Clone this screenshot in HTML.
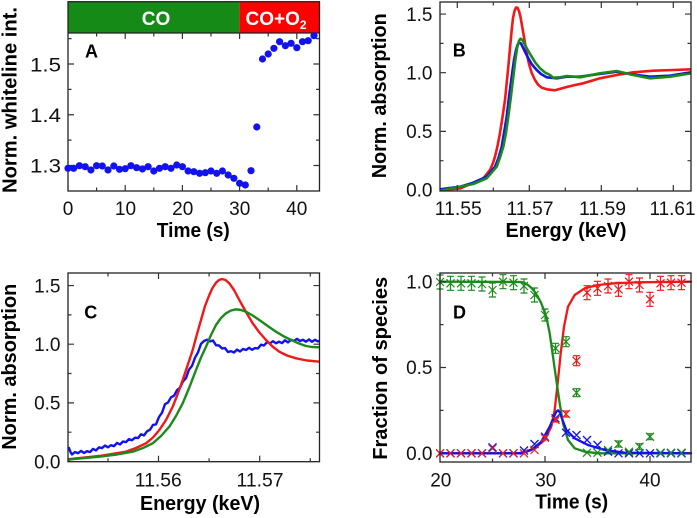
<!DOCTYPE html>
<html><head><meta charset="utf-8"><style>html,body{margin:0;padding:0;background:#fff}svg{display:block}</style></head>
<body>
<svg width="697" height="518" viewBox="0 0 697 518" xmlns="http://www.w3.org/2000/svg" font-family="'Liberation Sans', Arial, sans-serif">
<defs>
<clipPath id="cB"><rect x="440" y="2" width="251" height="189"/></clipPath>
<clipPath id="cC"><rect x="68" y="273" width="251.5" height="188.7"/></clipPath>
<clipPath id="cD"><rect x="436" y="269" width="259" height="197"/></clipPath>
</defs>

<!-- ================= PANEL A ================= -->
<rect x="68" y="1.7" width="171.6" height="31.3" fill="#168a16"/>
<rect x="239.6" y="1.7" width="79.9" height="31.3" fill="#ff0000"/>
<text x="156" y="25" font-size="19" font-weight="bold" fill="#fff" text-anchor="middle">CO</text>
<text x="276" y="25" font-size="19" font-weight="bold" fill="#fff" text-anchor="middle">CO+O<tspan font-size="12" dy="4">2</tspan></text>
<rect x="68" y="1.7" width="251.5" height="189.3" fill="none" stroke="#222" stroke-width="1.3"/>
<line x1="68" y1="33" x2="319.5" y2="33" stroke="#222" stroke-width="1.3"/>
<g stroke="#333" stroke-width="1.2">
<path d="M68 191v-6M125.2 191v-6M182.4 191v-6M239.6 191v-6M296.8 191v-6M96.6 191v-3.5M153.8 191v-3.5M211 191v-3.5M268.2 191v-3.5"/>
<path d="M125.2 33v6M182.4 33v6M239.6 33v6M296.8 33v6M96.6 33v3.5M153.8 33v3.5M211 33v3.5M268.2 33v3.5"/>
<path d="M68 165.5h6M68 114.75h6M68 64h6M68 140.1h3.5M68 89.4h3.5M68 38.6h3.5"/>
<path d="M319.5 165.5h-6M319.5 114.75h-6M319.5 64h-6M319.5 140.1h-3.5M319.5 89.4h-3.5M319.5 38.6h-3.5"/>
</g>
<g font-size="19" fill="#111" text-anchor="end">
<text x="61" y="71.5" textLength="31" lengthAdjust="spacingAndGlyphs">1.5</text>
<text x="61" y="122" textLength="31" lengthAdjust="spacingAndGlyphs">1.4</text>
<text x="61" y="172.5" textLength="31" lengthAdjust="spacingAndGlyphs">1.3</text>
</g>
<g font-size="19" fill="#111" text-anchor="middle">
<text x="68" y="215">0</text><text x="125.5" y="215">10</text><text x="182.7" y="215">20</text><text x="239.7" y="215">30</text><text x="296.7" y="215">40</text>
</g>
<text x="193.3" y="237" font-size="20" font-weight="bold" text-anchor="middle" textLength="73" lengthAdjust="spacingAndGlyphs">Time (s)</text>
<text transform="translate(16.5,100) rotate(-90)" font-size="20" font-weight="bold" text-anchor="middle" textLength="186" lengthAdjust="spacingAndGlyphs">Norm. whiteline int.</text>
<text x="85" y="57.3" font-size="18" font-weight="bold">A</text>
<g fill="#1212ee">
<circle cx="68" cy="168.3" r="3.6"/><circle cx="73.7" cy="168.3" r="3.6"/><circle cx="79.4" cy="165.7" r="3.6"/><circle cx="85.2" cy="166.7" r="3.6"/><circle cx="90.9" cy="170" r="3.6"/><circle cx="96.6" cy="165.7" r="3.6"/><circle cx="102.3" cy="166" r="3.6"/><circle cx="108" cy="170" r="3.6"/><circle cx="113.8" cy="166" r="3.6"/><circle cx="119.5" cy="169.3" r="3.6"/><circle cx="125.2" cy="168.7" r="3.6"/><circle cx="130.9" cy="165.7" r="3.6"/><circle cx="136.6" cy="167.7" r="3.6"/><circle cx="142.4" cy="169" r="3.6"/><circle cx="148.1" cy="166.7" r="3.6"/><circle cx="153.8" cy="171" r="3.6"/><circle cx="159.5" cy="168.3" r="3.6"/><circle cx="165.2" cy="166.7" r="3.6"/><circle cx="171" cy="168.3" r="3.6"/><circle cx="176.7" cy="165" r="3.6"/><circle cx="182.4" cy="166.7" r="3.6"/><circle cx="188.1" cy="171" r="3.6"/><circle cx="193.8" cy="171.7" r="3.6"/><circle cx="199.6" cy="173.3" r="3.6"/><circle cx="205.3" cy="172.7" r="3.6"/><circle cx="211" cy="171" r="3.6"/><circle cx="216.7" cy="173.3" r="3.6"/><circle cx="222.4" cy="171" r="3.6"/><circle cx="228.2" cy="175" r="3.6"/><circle cx="233.9" cy="178.3" r="3.6"/><circle cx="239.6" cy="183.3" r="3.6"/><circle cx="245.3" cy="185" r="3.6"/><circle cx="251" cy="170.7" r="3.6"/><circle cx="256.8" cy="127" r="3.6"/><circle cx="262.5" cy="59" r="3.6"/><circle cx="268.2" cy="54" r="3.6"/><circle cx="273.9" cy="48.3" r="3.6"/><circle cx="279.6" cy="41.7" r="3.6"/><circle cx="285.4" cy="45.7" r="3.6"/><circle cx="291.1" cy="43.3" r="3.6"/><circle cx="296.8" cy="47.7" r="3.6"/><circle cx="302.5" cy="41.7" r="3.6"/><circle cx="308.2" cy="40.7" r="3.6"/><circle cx="314" cy="35.7" r="3.6"/>
</g>

<!-- ================= PANEL B ================= -->
<g clip-path="url(#cB)" fill="none" stroke-width="2.6" stroke-linejoin="round" stroke-linecap="round">
<polyline stroke="#f01818" points="440,190 460,188.5 473.3,182.7 483.3,178.3 490,170 493,163 495,156.7 497.5,146 500,133 502.5,117 505,100 508.3,66.7 510,48 511.7,30 513,18 514.5,11 516,7.5 517.5,7.8 519,11 520.5,17 523.3,33 526.7,53 529,64 531.7,73 535,80 538.3,85 542,87.8 546.7,89.3 555,90.3 566.7,87 575,85 583.3,83.3 600,78.3 616.7,75 633.3,72.3 653.3,70.7 673.3,70 691,69.3"/>
<polyline stroke="#1212ee" points="440,189.3 460,186.7 473.3,182.7 486.7,176.7 495,166.7 498.5,158 501.7,146.7 504,133 506.7,116.7 509,97 511.7,76.7 514,60 516,50 517.5,45 519,42.7 521,43.5 523.3,48.3 528.3,58.3 532,64.5 536.7,70 541,74 546.7,77.3 556.7,78.3 566.7,76.7 580,76.7 596.7,74.3 616.7,71.7 630,74 650,76.7 670,75.7 691,72.3"/>
<polyline stroke="#1b8a1b" points="440,190.7 473.3,184 486.7,178.3 496.7,166.7 500,157.5 503.3,146.7 506,133 508.3,116.7 511,96 513.3,76.7 515.5,59 517.3,46.7 519,41 520.5,38.7 522.5,40 525,45 528,50.5 531.7,56.7 535.5,62.8 540,68.3 545,72.5 550,75 553.3,77.7 560,77.3 566.7,76 580,77.3 600,73.3 616.7,71 630,74.3 650,78.3 670,76.7 691,73.3"/>
</g>
<rect x="440" y="2" width="251" height="189" fill="none" stroke="#222" stroke-width="1.3"/>
<g stroke="#333" stroke-width="1.2">
<path d="M457.3 191v-6M529.3 191v-6M601.3 191v-6M673.3 191v-6M493.3 191v-3.5M565.3 191v-3.5M637.3 191v-3.5"/>
<path d="M457.3 2v6M529.3 2v6M601.3 2v6M673.3 2v6M493.3 2v3.5M565.3 2v3.5M637.3 2v3.5"/>
<path d="M440 131.35h6M440 72.7h6M440 14.05h6M440 160.7h3.5M440 102h3.5M440 43.4h3.5"/>
<path d="M691 131.35h-6M691 72.7h-6M691 14.05h-6M691 160.7h-3.5M691 102h-3.5M691 43.4h-3.5"/>
</g>
<g font-size="19" fill="#111" text-anchor="end">
<text x="432.5" y="20.8">1.5</text><text x="432.5" y="79.4">1.0</text><text x="432.5" y="138">0.5</text><text x="432.5" y="196.7">0.0</text>
</g>
<g font-size="19" fill="#111" text-anchor="middle">
<text x="458.3" y="215" textLength="47" lengthAdjust="spacingAndGlyphs">11.55</text>
<text x="530" y="215" textLength="47" lengthAdjust="spacingAndGlyphs">11.57</text>
<text x="602.5" y="215" textLength="47" lengthAdjust="spacingAndGlyphs">11.59</text>
<text x="672.5" y="215" textLength="46" lengthAdjust="spacingAndGlyphs">11.61</text>
</g>
<text x="566" y="237" font-size="20" font-weight="bold" text-anchor="middle" textLength="121" lengthAdjust="spacingAndGlyphs">Energy (keV)</text>
<text transform="translate(386,95.8) rotate(-90)" font-size="20" font-weight="bold" text-anchor="middle" textLength="165" lengthAdjust="spacingAndGlyphs">Norm. absorption</text>
<text x="452.7" y="56.7" font-size="18" font-weight="bold">B</text>

<!-- ================= PANEL C ================= -->
<g clip-path="url(#cC)" fill="none" stroke-width="2.4" stroke-linejoin="round" stroke-linecap="round">
<polyline stroke="#1212ee" points="69,448 70.5,452 72,454.5 75,452 78,453.2 81,450.9 84,453 87,451.2 90,452.1 93,448.9 96,450.4 99,447.4 102,448.1 105,445.6 108,447.3 111,445.2 114,446.2 117,442.9 120,444.5 123,441.5 126,442.1 129,439.1 132,440.2 135,437.7 138,438.1 141,434.3 144,435.4 147,431.3 150,429.7 153,424.9 156,424.3 159,417 162,412.7 165,404.2 168,402.5 171,397.3 174,395.7 177,390.2 180,387.7 183,381.4 186,378.1 189,369.6 192,365.9 195,357.7 198,352.4 201,343.9 204,341 207,339.7 210,341.4 213,340.5 216,345.2 219,345.5 222,348.4 225,348.1 228,352 231,351.2 234,352.5 237,349.6 240,351.5 243,349 246,350 249,347.8 252,349.8 255,348.1 258,348.4 261,344.7 264,345.5 267,342.2 270,343.3 273,341.2 276,343.3 279,341.7 282,343.1 285,340.3 288,342.4 291,339.8 294,340.9 297,338.9 300,341 303,339.8 306,341.7 309,339.4 312,341.8 315,339.8 318,341.4 319.5,341"/>
<polyline stroke="#f01818" points="68.5,459.3 71,459 99.3,456 126,451.7 136,448 146,443.3 153,437.5 159.3,430 166,420 172.7,406.7 177.7,394 182.7,380 187.7,365 192.7,350 197,334 201,320 205,306 209.3,295 212.5,288 216,282.7 219,280 222,279 225.5,280 229.3,283.3 234,290 239.3,300 246,312 252.7,323.3 259,332 266,340 272.5,346.5 279.3,351.7 287,355.5 296,358.3 307,360.5 319.5,361.7"/>
<polyline stroke="#1b8a1b" points="68.5,460 71,459.3 99.3,456.7 117,454.5 132.7,451.7 143,448 152.7,443.3 161,436 169.3,426.7 176,416 182.7,403.3 189.5,387 196,370 201,357.5 206,346.7 211,335 216,325 221,318 226,313.3 231,310.5 236,309.3 241,310 246,311.7 252.7,315.5 259.3,320 267,325.5 276,331.7 284,336.5 292.7,340.7 299,343.5 306,346 312,347 319.5,347.3"/>
</g>
<rect x="68" y="273" width="251.5" height="188.7" fill="none" stroke="#222" stroke-width="1.3"/>
<g stroke="#333" stroke-width="1.2">
<path d="M158.5 461.7v-6M259.7 461.7v-6M108 461.7v-3.5M209.1 461.7v-3.5M310.3 461.7v-3.5"/>
<path d="M158.5 273v6M259.7 273v6M108 273v3.5M209.1 273v3.5M310.3 273v3.5"/>
<path d="M68 402.85h6M68 344.2h6M68 285.55h6M68 432.2h3.5M68 373.5h3.5M68 314.9h3.5"/>
<path d="M319.5 402.85h-6M319.5 344.2h-6M319.5 285.55h-6M319.5 432.2h-3.5M319.5 373.5h-3.5M319.5 314.9h-3.5"/>
</g>
<g font-size="19" fill="#111" text-anchor="end">
<text x="60.5" y="292.5">1.5</text><text x="60.5" y="351">1.0</text><text x="60.5" y="409.7">0.5</text><text x="60.5" y="468.3">0.0</text>
</g>
<g font-size="19" fill="#111" text-anchor="middle">
<text x="158.3" y="486.7" textLength="47" lengthAdjust="spacingAndGlyphs">11.56</text>
<text x="260" y="486.7" textLength="47" lengthAdjust="spacingAndGlyphs">11.57</text>
</g>
<text x="200" y="510" font-size="20" font-weight="bold" text-anchor="middle" textLength="120" lengthAdjust="spacingAndGlyphs">Energy (keV)</text>
<text transform="translate(16,366.7) rotate(-90)" font-size="20" font-weight="bold" text-anchor="middle" textLength="166" lengthAdjust="spacingAndGlyphs">Norm. absorption</text>
<text x="84.3" y="318.3" font-size="18" font-weight="bold">C</text>

<!-- ================= PANEL D ================= -->
<g clip-path="url(#cD)">
<g fill="none" stroke-width="2.3" stroke-linejoin="round" stroke-linecap="round">
<polyline stroke="#f01818" points="440,453.3 518,453.3 524.7,451.7 534.7,448.3 544.7,440 551.3,426.7 554.7,410 558,380 560.7,353.3 564,326.7 568,306.7 574.7,295 584.7,288.3 598,285 614.7,283.3 638,282.3 691,281.7"/>
<polyline stroke="#1b8a1b" points="440,281.7 521.3,282 524.5,283 528,285 531.5,288 534.7,291.7 538,297 541.3,303.3 546.3,316.7 549.7,333.3 553,356.7 556.3,380 559.7,403.3 563,423.3 568,440 574.7,448.3 584.7,451.7 598,453.3 691,453.3"/>
<polyline stroke="#1212ee" points="440,453.3 521.3,453.3 531.3,450 541.3,441.7 549.7,426.7 554.7,415 556.5,411.5 558,410.3 560,412.5 561.3,416.7 566.3,430 574.7,438.3 588,445 604.7,450 624.7,452.7 691,453.3"/>
</g>
<!-- blue markers -->
<path fill="none" stroke="#1212ee" stroke-width="1.3" d="M436 449.3l8 8M436 457.3l8-8 M446.5 449.3l8 8M446.5 457.3l8-8 M457 449.3l8 8M457 457.3l8-8 M467.5 449.3l8 8M467.5 457.3l8-8 M478 449.3l8 8M478 457.3l8-8 M488.5 443.3l8 8M488.5 451.3l8-8 M499 449.3l8 8M499 457.3l8-8 M509.5 449.3l8 8M509.5 457.3l8-8 M520 446.5l8 8M520 454.5l8-8 M530.5 440l8 8M530.5 448l8-8 M541 432.7l8 8M541 440.7l8-8 M551.5 414.3l8 8M551.5 422.3l8-8 M562 428.7l8 8M562 436.7l8-8 M572.5 431l8 8M572.5 439l8-8 M583 436l8 8M583 444l8-8 M593.5 441l8 8M593.5 449l8-8 M604 447.7l8 8M604 455.7l8-8 M614.5 449.3l8 8M614.5 457.3l8-8 M625 449.3l8 8M625 457.3l8-8 M635.5 449.3l8 8M635.5 457.3l8-8 M646 449.3l8 8M646 457.3l8-8 M656.5 449.3l8 8M656.5 457.3l8-8 M667 449.3l8 8M667 457.3l8-8 M677.5 449.3l8 8M677.5 457.3l8-8"/>
<!-- red markers -->
<path fill="none" stroke="#f01818" stroke-width="1.2" d="M436 449.3l8 8M436 457.3l8-8 M446.5 449.3l8 8M446.5 457.3l8-8 M457 449.3l8 8M457 457.3l8-8 M467.5 449.3l8 8M467.5 457.3l8-8 M478 449.3l8 8M478 457.3l8-8 M488.5 444.5l8 8M488.5 452.5l8-8 M499 449.3l8 8M499 457.3l8-8 M509.5 449.3l8 8M509.5 457.3l8-8 M520 449.3l8 8M520 457.3l8-8 M530.5 446l8 8M530.5 454l8-8 M541 433.7l8 8M541 441.7l8-8 M551.5 416l8 8M551.5 424l8-8 M562 410l8 8M562 418l8-8 M572.5 356.7l8 8M572.5 364.7l8-8 M583 288.7l8 8M583 296.7l8-8 M593.5 284.3l8 8M593.5 292.3l8-8 M604 282l8 8M604 290l8-8 M614.5 285.3l8 8M614.5 293.3l8-8 M625 277.7l8 8M625 285.7l8-8 M635.5 281l8 8M635.5 289l8-8 M646 295.3l8 8M646 303.3l8-8 M656.5 279.3l8 8M656.5 287.3l8-8 M667 278.7l8 8M667 286.7l8-8 M677.5 278.7l8 8M677.5 286.7l8-8"/>
<path fill="none" stroke="#f01818" stroke-width="1.2" d="M545 435.7v4M541.5 435.7h7M541.5 439.7h7 M555.5 418v4M552 418h7M552 422h7 M566 411v6M562.5 411h7M562.5 417h7 M576.5 355.7v10M573 355.7h7M573 365.7h7 M587 285.7v14M583.5 285.7h7M583.5 299.7h7 M597.5 281.3v14M594 281.3h7M594 295.3h7 M608 279v14M604.5 279h7M604.5 293h7 M618.5 282.3v14M615 282.3h7M615 296.3h7 M629 274.7v14M625.5 274.7h7M625.5 288.7h7 M639.5 278v14M636 278h7M636 292h7 M650 292.3v14M646.5 292.3h7M646.5 306.3h7 M660.5 276.3v14M657 276.3h7M657 290.3h7 M671 275.7v14M667.5 275.7h7M667.5 289.7h7 M681.5 275.7v14M678 275.7h7M678 289.7h7"/>
<!-- green markers -->
<path fill="none" stroke="#1b8a1b" stroke-width="1.2" d="M436 278l8 8M436 286l8-8 M446.5 279.3l8 8M446.5 287.3l8-8 M457 279.3l8 8M457 287.3l8-8 M467.5 279.3l8 8M467.5 287.3l8-8 M478 280l8 8M478 288l8-8 M488.5 286l8 8M488.5 294l8-8 M499 277.7l8 8M499 285.7l8-8 M509.5 278.7l8 8M509.5 286.7l8-8 M520 282l8 8M520 290l8-8 M530.5 291l8 8M530.5 299l8-8 M541 311l8 8M541 319l8-8 M551.5 344.3l8 8M551.5 352.3l8-8 M562 337.7l8 8M562 345.7l8-8 M572.5 388.7l8 8M572.5 396.7l8-8 M583 448.7l8 8M583 456.7l8-8 M593.5 448.7l8 8M593.5 456.7l8-8 M604 446l8 8M604 454l8-8 M614.5 440l8 8M614.5 448l8-8 M625 447.7l8 8M625 455.7l8-8 M635.5 442.7l8 8M635.5 450.7l8-8 M646 432.7l8 8M646 440.7l8-8 M656.5 448.7l8 8M656.5 456.7l8-8 M667 448.7l8 8M667 456.7l8-8 M677.5 448.7l8 8M677.5 456.7l8-8"/>
<path fill="none" stroke="#1b8a1b" stroke-width="1.2" d="M440 275v14M436.5 275h7M436.5 289h7 M450.5 276.3v14M447 276.3h7M447 290.3h7 M461 276.3v14M457.5 276.3h7M457.5 290.3h7 M471.5 276.3v14M468 276.3h7M468 290.3h7 M482 277v14M478.5 277h7M478.5 291h7 M492.5 283v14M489 283h7M489 297h7 M503 274.7v14M499.5 274.7h7M499.5 288.7h7 M513.5 275.7v14M510 275.7h7M510 289.7h7 M524 279v14M520.5 279h7M520.5 293h7 M534.5 288v14M531 288h7M531 302h7 M545 309v12M541.5 309h7M541.5 321h7 M555.5 343.3v10M552 343.3h7M552 353.3h7 M566 336.7v10M562.5 336.7h7M562.5 346.7h7 M576.5 388.7v8M573 388.7h7M573 396.7h7 M618.5 441v6M615 441h7M615 447h7 M639.5 443.7v6M636 443.7h7M636 449.7h7 M650 433.7v6M646.5 433.7h7M646.5 439.7h7"/>
</g>
<rect x="440" y="273" width="251" height="189" fill="none" stroke="#222" stroke-width="1.3"/>
<g stroke="#333" stroke-width="1.2">
<path d="M545 462v-6M650 462v-6M492.5 462v-3.5M597.5 462v-3.5"/>
<path d="M545 273v6M650 273v6M492.5 273v3.5M597.5 273v3.5"/>
<path d="M440 367.5h6M440 281.7h6M440 410.4h3.5M440 324.6h3.5"/>
<path d="M691 453.3h-6M691 367.5h-6M691 281.7h-6M691 410.4h-3.5M691 324.6h-3.5"/>
</g>
<g font-size="19" fill="#111" text-anchor="end">
<text x="432.5" y="288.5">1.0</text><text x="432.5" y="374">0.5</text><text x="432.5" y="459.8">0.0</text>
</g>
<g font-size="19" fill="#111" text-anchor="middle">
<text x="440.8" y="486.7">20</text><text x="545.8" y="486.7">30</text><text x="650" y="486.7">40</text>
</g>
<text x="571.7" y="508.5" font-size="20" font-weight="bold" text-anchor="middle" textLength="73" lengthAdjust="spacingAndGlyphs">Time (s)</text>
<text transform="translate(387,368.3) rotate(-90)" font-size="20" font-weight="bold" text-anchor="middle" textLength="183" lengthAdjust="spacingAndGlyphs">Fraction of species</text>
<text x="453" y="318.3" font-size="18" font-weight="bold">D</text>
</svg>
</body></html>
